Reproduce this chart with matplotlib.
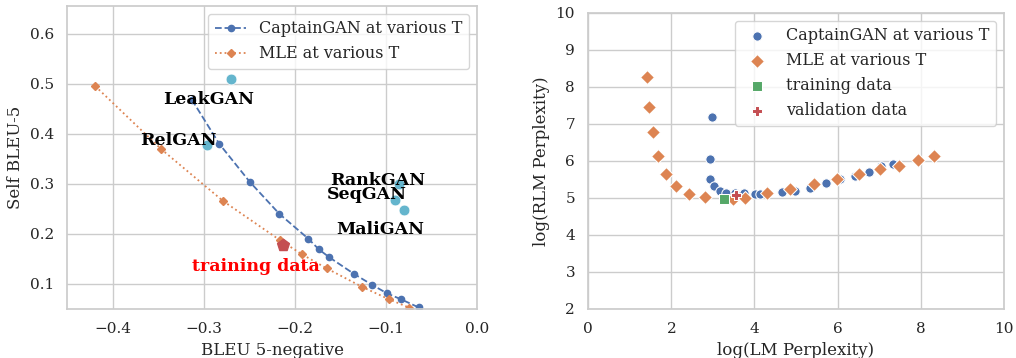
import numpy as np
import matplotlib
matplotlib.use('Agg')
import matplotlib.pyplot as plt
import seaborn as sns

sns.set_theme(style='whitegrid', context='notebook')
plt.rcParams['font.family'] = ['DejaVu Serif']
plt.rcParams['axes.edgecolor'] = '.8'

# left panel: BLEU vs self-BLEU
captain_bleu = [-0.313, -0.283, -0.2495, -0.217, -0.185, -0.1736, -0.162, -0.135, -0.115, -0.0986, -0.083, -0.064]
captain_self = [0.468, 0.38, 0.304, 0.24, 0.19, 0.169, 0.153, 0.12, 0.098, 0.081, 0.069, 0.053]
mle_bleu = [-0.419, -0.3465, -0.279, -0.216, -0.192, -0.165, -0.126, -0.0967, -0.0744]
mle_self = [0.495, 0.369, 0.266, 0.187, 0.159, 0.131, 0.094, 0.0694, 0.0526]
gan_names = ['LeakGAN', 'RelGAN', 'RankGAN', 'SeqGAN', 'MaliGAN']
gan_bleu = [-0.27, -0.2967, -0.0857, -0.09, -0.08]
gan_self = [0.509, 0.378, 0.299, 0.267, 0.247]
label_x = [-0.344, -0.370, -0.161, -0.165, -0.154]
label_y = [0.46, 0.378, 0.298, 0.270, 0.200]
train_bleu, train_self = -0.2128, 0.178

# right panel: LM vs RLM perplexity
cap_lm = [2.97, 2.93, 2.94, 3.03, 3.17, 3.32, 3.52, 3.74, 4.01, 4.14, 4.66, 4.98, 5.34, 5.71, 6.05, 6.41, 6.75, 7.05, 7.34]
cap_rlm = [7.20, 6.05, 5.51, 5.33, 5.20, 5.14, 5.13, 5.12, 5.11, 5.11, 5.17, 5.20, 5.26, 5.41, 5.51, 5.60, 5.70, 5.85, 5.92]
mle_lm = [1.42, 1.47, 1.55, 1.67, 1.87, 2.12, 2.42, 2.80, 3.48, 3.76, 4.31, 4.86, 5.43, 5.98, 6.52, 7.02, 7.48, 7.93, 8.33]
mle_rlm = [8.28, 7.47, 6.78, 6.14, 5.66, 5.33, 5.10, 5.03, 4.96, 5.01, 5.13, 5.24, 5.37, 5.51, 5.65, 5.78, 5.87, 6.02, 6.12]
train_lm, train_rlm = 3.27, 4.97
valid_lm, valid_rlm = 3.56, 5.08

pal = sns.color_palette('deep')

fig = plt.figure(figsize=(10.16, 3.58), dpi=100)
ax1 = fig.add_axes([0.066, 0.137, 0.4035, 0.846])
ax2 = fig.add_axes([0.579, 0.137, 0.409, 0.827])

ax1.plot(captain_bleu, captain_self, '--o', color=pal[0], markersize=4.5,
         linewidth=1.3, label='CaptainGAN at various T')
ax1.plot(mle_bleu, mle_self, ':D', color=pal[1], markersize=4.5,
         linewidth=1.3, label='MLE at various T')
ax1.scatter(gan_bleu, gan_self, s=60, color=pal[9], edgecolor='white', linewidth=0.5, zorder=3)
ax1.scatter([train_bleu], [train_self], s=80, marker='p', color=pal[3], zorder=3)
for name, x, y in zip(gan_names, label_x, label_y):
    ax1.text(x, y, name, fontsize=12.5, fontweight='bold', color='black')
ax1.text(-0.3124, 0.126, 'training data', fontsize=12.5, fontweight='bold', color='red')
ax1.set_xlim(-0.45, 0.0)
ax1.set_ylim(0.05, 0.655)
ax1.set_xticks([-0.4, -0.3, -0.2, -0.1, 0.0])
ax1.set_yticks([0.1, 0.2, 0.3, 0.4, 0.5, 0.6])
ax1.set_xlabel('BLEU 5-negative')
ax1.set_ylabel('Self BLEU-5')
ax1.legend(loc='upper right', fontsize=11.5)

ax2.scatter(cap_lm, cap_rlm, s=45, marker='o', color=pal[0], edgecolor='white',
            linewidth=0.75, label='CaptainGAN at various T')
ax2.scatter(mle_lm, mle_rlm, s=50, marker='D', color=pal[1], edgecolor='white',
            linewidth=0.75, label='MLE at various T')
ax2.scatter([train_lm], [train_rlm], s=45, marker='s', color=pal[2], edgecolor='white',
            linewidth=0.75, label='training data')
ax2.scatter([valid_lm], [valid_rlm], s=60, marker='P', color=pal[3], edgecolor='white',
            linewidth=0.75, label='validation data')
ax2.set_xlim(0, 10)
ax2.set_ylim(2, 10)
ax2.set_xticks([0, 2, 4, 6, 8, 10])
ax2.set_yticks([2, 3, 4, 5, 6, 7, 8, 9, 10])
ax2.set_xlabel('log(LM Perplexity)')
ax2.set_ylabel('log(RLM Perplexity)')
ax2.legend(loc='upper right', fontsize=11.5)

fig.savefig('out.png', dpi=100)
